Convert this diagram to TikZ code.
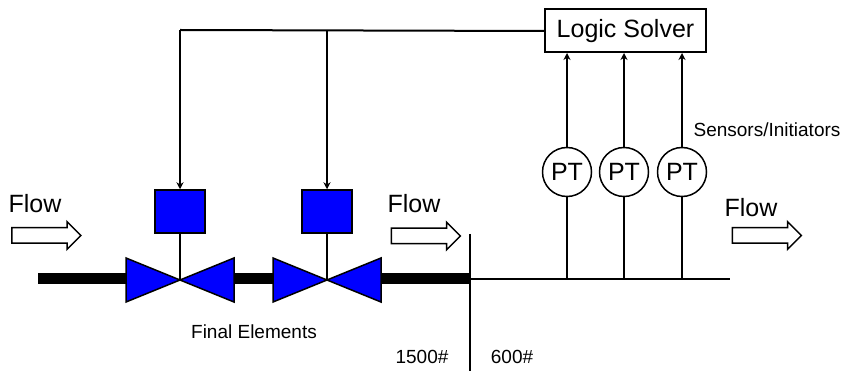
\documentclass[tikz,border=0pt]{standalone}
\usepackage{fontspec}
\setmainfont{Liberation Sans}
\usetikzlibrary{arrows.meta,positioning,shapes.arrows}

\begin{document}
\begin{tikzpicture}[x=1pt, y=-1pt,
            every node/.style={font=\fontsize{19}{22}\selectfont},
            big/.style={font=\fontsize{25}{28}\selectfont},
            wire/.style={draw, line width=2pt},
            pipe/.style={draw, line width=11pt},
            sig/.style={wire, -{Stealth[length=7pt,width=7pt]}},
            valve/.style={draw, line width=1.5pt, fill=blue},
            actuator/.style={draw, line width=1.5pt, fill=blue, minimum width=50pt, minimum height=43pt, inner sep=0pt},
            sensor/.style={draw, circle, line width=1.5pt, minimum size=49pt, inner sep=0pt, big},
            flowarrow/.style={single arrow, draw, line width=1.5pt, minimum height=69pt, inner xsep=0pt, inner ysep=7pt, single arrow head extend=6pt}]
        \useasboundingbox (0,0) rectangle (843,371);
        % logic solver
        \node[wire, big, minimum width=161pt, minimum height=43pt] (ls) at (625.5,31) {Logic Solver};
        % pipe
        \coordinate (p0) at (38,279);
        \coordinate (pa1) at (126,279);
        \coordinate (pa2) at (233,279);
        \coordinate (pb1) at (274,279);
        \coordinate (pb2) at (381,279);
        \coordinate (pc) at (470,279);
        \coordinate (pend) at (730,279);
        \draw[pipe] (p0) -- (pa1) (pa2) -- (pb1) (pb2) -- (pc);
        \draw[wire] (pc) -- (pend);
        \draw[wire] (470,234) -- (470,371);
        % final elements
        \foreach \v/\x in {a/180, b/327} {
            \draw[valve] (\x-54,258) -- (\x-54,302) -- (\x,280) -- cycle;
            \draw[valve] (\x+54,258) -- (\x+54,302) -- (\x,280) -- cycle;
            \node[actuator] (act\v) at (\x,211.5) {};
            \coordinate (top\v) at (\x,30);
            \draw[wire] (act\v.south) -- (\x,280);
        }
        \draw[wire] (ls.west) -- (topa);
        \draw[sig] (topa) -- (acta.north);
        \draw[sig] (topb) -- (actb.north);
        % sensors
        \foreach \s/\x in {1/567, 2/624, 3/682} {
            \node[sensor] (pt\s) at (\x,172) {PT};
            \coordinate (tap\s) at (\x,279);
            \coordinate (in\s) at (\x,53);
            \draw[wire] (tap\s) -- (pt\s.south);
            \draw[sig] (pt\s.north) -- (in\s);
        }
        % flow
        \node[big] (flowl) at (35,204) {Flow};
        \node[flowarrow] (arrl) at (42.5,235.5) {};
        \node[big] (flowm) at (414,204) {Flow};
        \node[flowarrow] (arrm) at (422,236) {};
        \node[big] (flowr) at (751,208) {Flow};
        \node[flowarrow] (arrr) at (763,235.5) {};
        % labels
        \node (sens) at (767,130) {Sensors/Initiators};
        \node (fe) at (254,332) {Final Elements};
        \node (hi) at (422,357) {1500\#};
        \node (lo) at (512,357) {600\#};
\end{tikzpicture}
\end{document}
